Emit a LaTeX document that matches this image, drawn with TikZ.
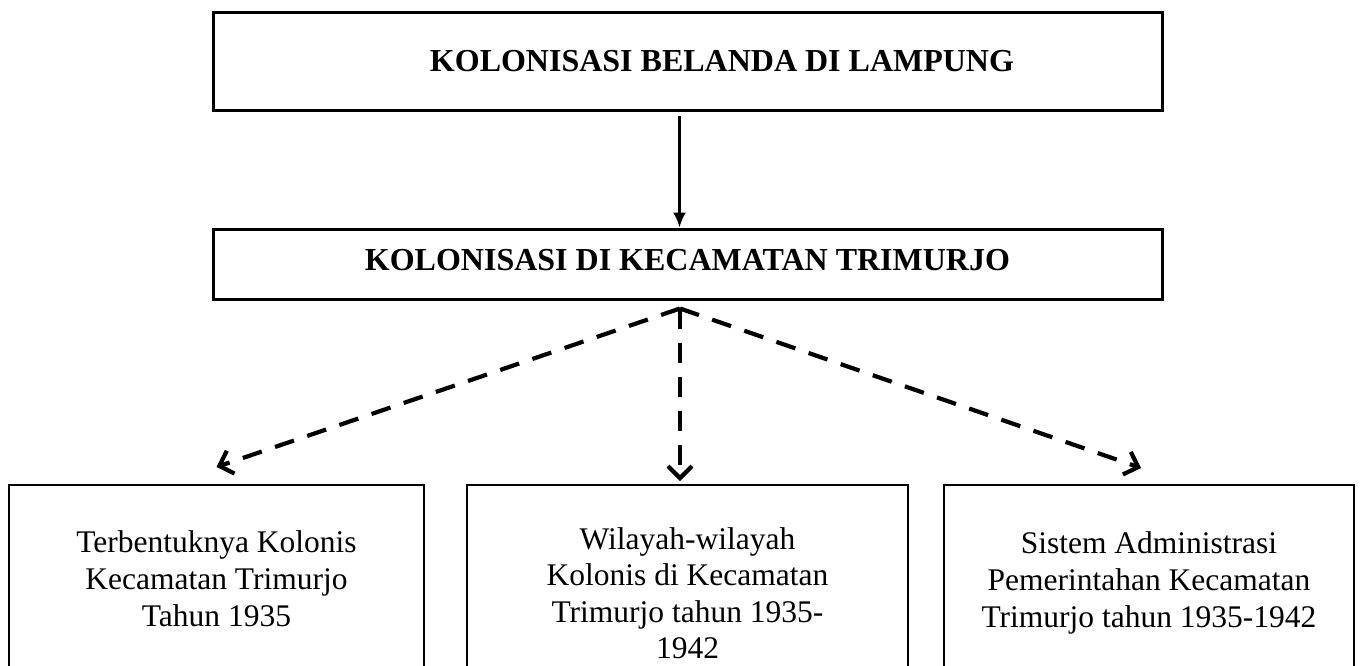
\documentclass[tikz,border=0pt]{standalone}
\usepackage{fontspec}
\setmainfont{Liberation Serif}
\usepackage{tikz}
\usetikzlibrary{calc,arrows.meta}

\tikzset{
  headbox/.style={draw, line width=3pt, inner sep=0pt, font=\fontsize{32}{37}\selectfont\bfseries},
  subbox/.style={draw, line width=2.2pt, inner sep=0pt, anchor=north, align=center, font=\fontsize{31.5}{37}\selectfont},
  dasharrow/.style={line width=4.2pt, dash pattern=on 20pt off 14pt, -{Straight Barb[length=12pt,width=24pt]}}
}

\begin{document}
\begin{tikzpicture}[x=1pt,y=-1pt]
        \clip (0,0) rectangle (1361,665);
        \node[headbox, minimum width=949pt, minimum height=98pt] (lampung) at (687.5,61)
            {\hspace*{69pt}KOLONISASI BELANDA DI LAMPUNG};
        \node[headbox, minimum width=949pt, minimum height=70pt, text height=21pt, text depth=8pt] (trimurjo) at (687.5,264)
            {KOLONISASI DI KECAMATAN TRIMURJO};
        \node[subbox, minimum width=415pt, minimum height=188pt] (terbentuk) at (216.5,484)
            {Terbentuknya Kolonis\\Kecamatan Trimurjo\\Tahun 1935};
        \node[subbox, minimum width=441pt, minimum height=216pt, font=\fontsize{31.5}{36.3}\selectfont] (wilayah) at (687.5,484)
            {Wilayah-wilayah\\Kolonis di Kecamatan\\Trimurjo tahun 1935-\\1942};
        \node[subbox, minimum width=410pt, minimum height=196pt] (sistem) at (1149,484)
            {Sistem Administrasi\\Pemerintahan Kecamatan\\Trimurjo tahun 1935-1942};
        \draw[line width=2.5pt, -{Latex[length=15pt,width=13pt]}]
            ([xshift=-8pt,yshift=-4pt]lampung.south) -- ([xshift=-8pt]trimurjo.north);
        \coordinate (fork) at ([xshift=-7.5pt,yshift=-8pt]trimurjo.south);
        \draw[dasharrow] (fork) -- ([yshift=17pt]terbentuk.north);
        \draw[dasharrow, shorten >=3pt] (fork) -- (fork |- wilayah.north);
        \draw[dasharrow] (fork) -- ([xshift=-8pt,yshift=16pt]sistem.north);
\end{tikzpicture}
\end{document}
